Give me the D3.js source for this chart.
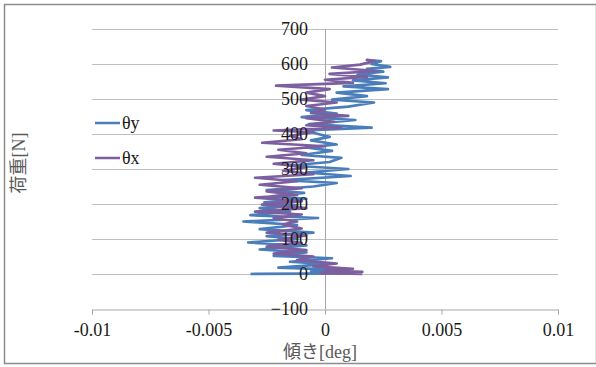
<!DOCTYPE html>
<html><head><meta charset="utf-8">
<script src="https://cdn.jsdelivr.net/npm/d3@7"></script>
<style>body{margin:0;background:#fff}svg{display:block}</style>
</head><body>
<svg id="c" width="596" height="367"></svg>
<script>
const xTicks = [-0.01, -0.005, 0, 0.005, 0.01];
const xTickLabels = ["-0.01", "-0.005", "0", "0.005", "0.01"];
const yTicks = [-100, 0, 100, 200, 300, 400, 500, 600, 700];
const seriesNames = ["θy", "θx"];
// θy: [load N, tilt deg]
const thetaY = [
[0,-0.0032],[2,0.0012],[8,-0.0006],[12,0.0008],[18,-0.002],[28,0.0001],[35,-0.0015],[45,0.0003],
[52,-0.0022],[62,-0.0008],[70,-0.0028],[82,-0.0008],[90,-0.0033],[100,-0.0012],[108,-0.0025],[118,-0.0005],
[128,-0.0028],[140,-0.0012],[150,-0.0035],[160,-0.0003],[168,-0.0032],[178,-0.0015],[188,-0.0028],[196,-0.0012],
[205,-0.0026],[215,-0.0008],[222,-0.0023],[232,-0.0009],[240,-0.0025],[250,-0.0005],[260,0.0005],[268,-0.0018],
[280,0.0011],[290,-0.0008],[300,0.0010],[310,-0.0015],[320,0.0002],[332,0.0007],[340,-0.0010],[352,0.0003],
[362,-0.0008],[370,0.0005],[382,-0.0006],[392,0.0002],[400,-0.0003],[410,-0.0008],[418,0.0020],[428,-0.0007],
[440,0.0013],[448,-0.0010],[458,0.0005],[468,-0.0008],[478,0.0010],[490,0.0021],[498,0.0003],[508,0.0018],
[518,0.0005],[528,0.0027],[536,0.0008],[545,0.0026],[553,0.0012],[562,0.0027],[570,0.0014],[578,0.0025],
[586,0.0018],[592,0.0028],[600,0.0020],[608,0.0024],[610,0.0020]
];
// θx: [load N, tilt deg]
const thetaX = [
[0,0.0016],[3,-0.0002],[6,0.0016],[10,0.0000],[15,0.0012],[22,-0.0005],[30,0.0005],[40,-0.0012],
[50,-0.0005],[58,-0.0022],[68,-0.0008],[78,-0.0025],[88,-0.0010],[98,-0.0020],[110,-0.0008],[118,-0.0025],
[130,-0.0010],[142,-0.0018],[150,-0.0012],[160,-0.0022],[170,-0.0010],[178,-0.0030],[188,-0.0008],[198,-0.0027],
[208,-0.0010],[218,-0.0030],[226,-0.0012],[236,-0.0025],[245,-0.0010],[255,-0.0028],[265,-0.0012],[275,-0.0030],
[285,-0.0005],[295,-0.0018],[305,-0.0008],[315,-0.0022],[325,-0.0005],[335,-0.0025],[345,-0.0008],[355,-0.0020],
[365,0.0000],[375,-0.0027],[385,-0.0010],[395,-0.0015],[405,-0.0005],[410,-0.0022],[418,0.0007],[425,-0.0008],
[435,0.0004],[445,-0.0008],[452,0.0010],[460,-0.0006],[470,0.0000],[480,-0.0008],[490,0.0005],[498,-0.0010],
[508,0.0000],[518,-0.0008],[528,0.0002],[538,-0.0021],[546,0.0012],[555,0.0000],[563,0.0018],[572,0.0002],
[580,0.0022],[590,0.0003],[598,0.0015],[606,0.0020],[612,0.0018],[608,0.0022]
];
const colors = ["#4a7ebb", "#7d5fa0"];

const svg = d3.select("#c");
svg.append("rect").attr("x",4.5).attr("y",4.5).attr("width",592).attr("height",359)
  .attr("fill","#fff").attr("stroke","#8c8c8c").attr("stroke-width",1.5);

const x = d3.scaleLinear().domain([-0.01,0.01]).range([92,558]);
const y = d3.scaleLinear().domain([-100,700]).range([309,29]);

// gridlines
svg.append("g").selectAll("line").data(yTicks.filter(d=>d>-100)).join("line")
  .attr("x1",x(-0.01)).attr("x2",x(0.01))
  .attr("y1",d=>Math.round(y(d))+0.5).attr("y2",d=>Math.round(y(d))+0.5)
  .attr("stroke","#bfbfbf").attr("stroke-width",1);

// vertical axis at x=0
svg.append("line").attr("x1",Math.round(x(0))+0.5).attr("x2",Math.round(x(0))+0.5)
  .attr("y1",y(700)).attr("y2",y(-100)).attr("stroke","#a6a6a6");

// x axis at y=-100
const xa = svg.append("g").attr("transform",`translate(0,${Math.round(y(-100))+0.5})`)
  .call(d3.axisBottom(x).tickValues(xTicks).tickFormat((d,i)=>xTickLabels[i]).tickSize(5).tickPadding(9));
xa.select(".domain").attr("stroke","#a6a6a6");
xa.selectAll(".tick line").attr("stroke","#a6a6a6");
xa.selectAll("text").attr("font-family","'Liberation Serif', serif").attr("font-size",18).attr("fill","#1a1a1a");

// series
const line = d3.line().x(d=>x(d[1])).y(d=>y(d[0]));
[thetaY, thetaX].forEach((s,i)=>{
  svg.append("path").datum(s).attr("d",line).attr("fill","none")
    .attr("stroke",colors[i]).attr("stroke-width",2.75).attr("stroke-linejoin","round");
});

// y axis labels, right aligned near the x=0 axis (drawn over the series)
const ya = svg.append("g").attr("transform",`translate(${x(0)},0)`)
  .call(d3.axisLeft(y).tickValues(yTicks).tickSize(0).tickPadding(17));
ya.select(".domain").remove();
ya.selectAll("text").attr("font-family","'Liberation Serif', serif").attr("font-size",18).attr("fill","#1a1a1a");

// legend
seriesNames.forEach((n,i)=>{
  const ly = 123 + i*35;
  svg.append("line").attr("x1",95).attr("x2",120).attr("y1",ly).attr("y2",ly)
    .attr("stroke",colors[i]).attr("stroke-width",2.5);
  svg.append("text").attr("x",122).attr("y",ly).attr("dy","0.35em").text(n)
    .attr("font-family","'Liberation Serif', serif").attr("font-size",18).attr("fill","#1a1a1a");
});

// axis titles
svg.append("text").attr("x",320).attr("y",352).attr("dy","0.35em").attr("text-anchor","middle")
  .attr("font-family","'Liberation Serif','Noto Sans CJK JP', serif").attr("font-size",18).attr("fill","#595959")
  .text("傾き[deg]");
svg.append("text").attr("transform","translate(19,163) rotate(-90)").attr("dy","0.35em").attr("text-anchor","middle")
  .attr("font-family","'Liberation Serif','Noto Sans CJK JP', serif").attr("font-size",18).attr("fill","#595959")
  .text("荷重[N]");
</script>
</body></html>
